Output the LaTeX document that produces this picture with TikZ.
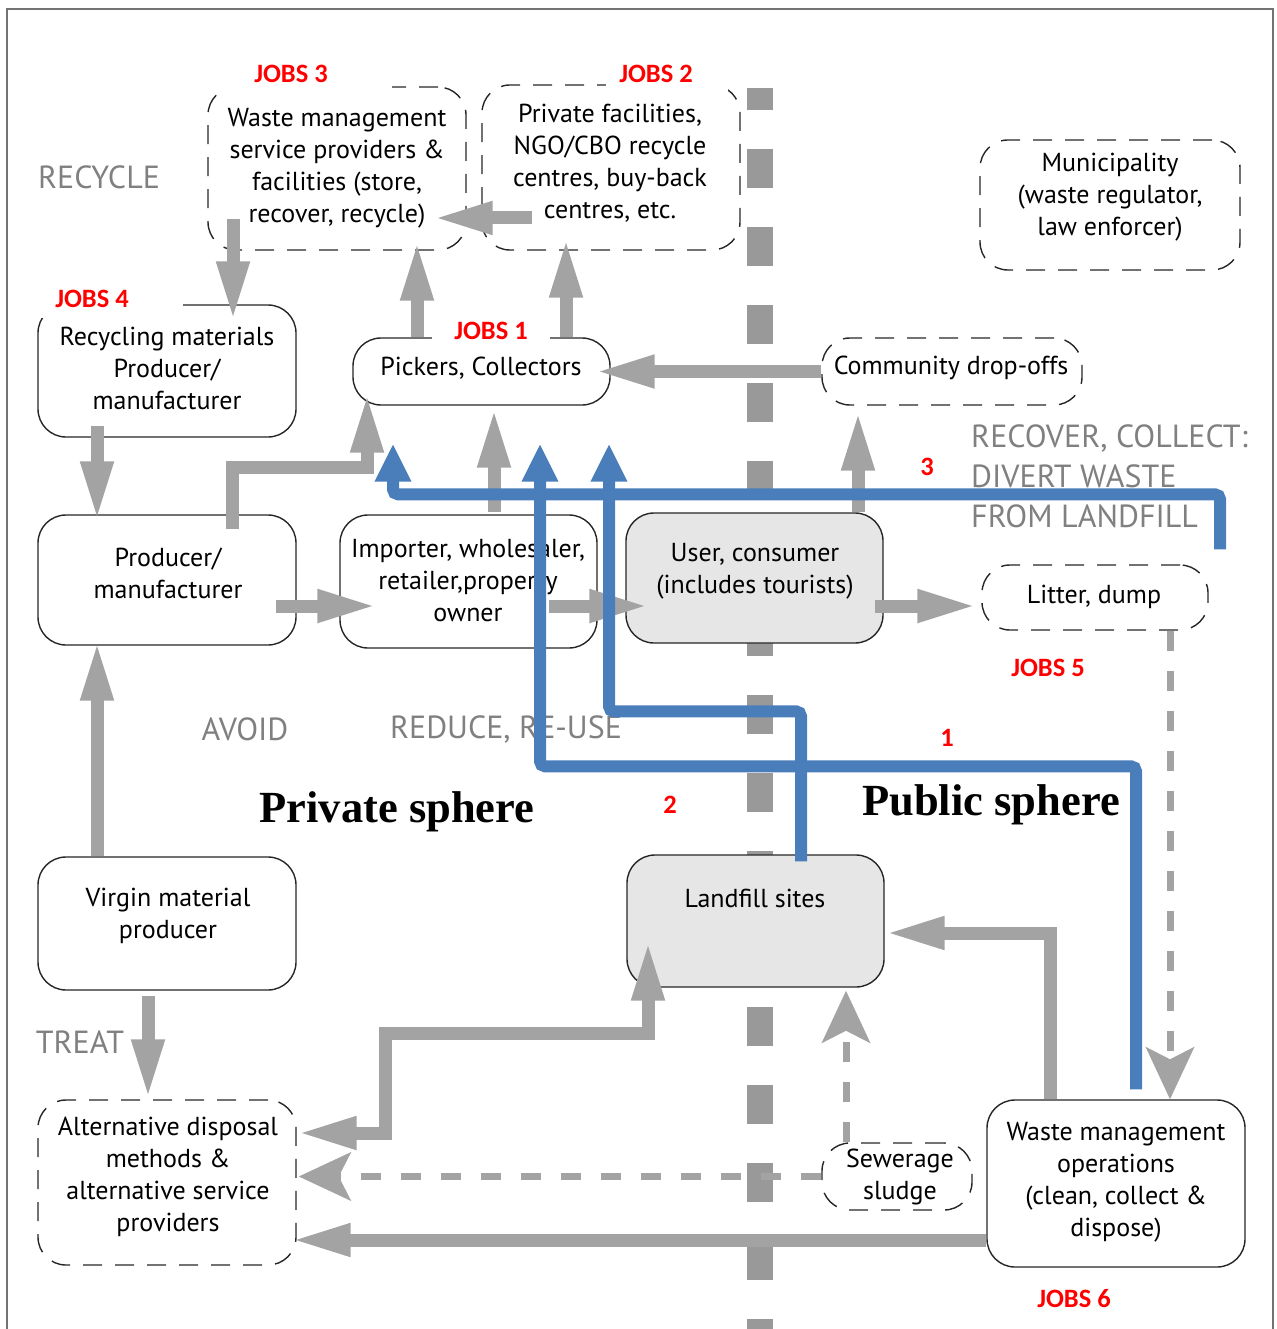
\documentclass[tikz,border=0pt]{standalone}
\usepackage{fontspec}
\setmainfont{PT Sans}
\newfontfamily\jobsfont{Carlito}
\newfontfamily\sphfont{Liberation Serif}
\usetikzlibrary{arrows.meta,calc}
\definecolor{garr}{RGB}{163,163,163}
\definecolor{gdiv}{RGB}{153,153,153}
\definecolor{bl}{RGB}{74,126,187}
\definecolor{lblgray}{RGB}{128,128,128}
\definecolor{boxfill}{RGB}{230,230,230}
\definecolor{jobred}{RGB}{255,0,0}
\begin{document}
\begin{tikzpicture}[x=1pt,y=-1pt,
  solidbox/.style={draw=black!85, line width=1.4pt, rounded corners=28pt, fill=white, inner sep=0pt},
  dashbox/.style={draw=black!85, line width=1.4pt, rounded corners=28pt, dash pattern=on 19pt off 13pt, inner sep=0pt},
  txt/.style={align=center, font=\fontsize{26}{32}\selectfont, inner sep=0pt},
  lbl/.style={text=lblgray, font=\fontsize{32}{40}\selectfont, inner sep=0pt},
  jobs/.style={text=jobred, font=\jobsfont\bfseries\fontsize{26.5}{30}\selectfont, inner sep=0pt},
  sph/.style={font=\sphfont\bfseries\fontsize{44.5}{50}\selectfont, inner sep=0pt},
  garrow/.style={draw=garr, line width=13pt, -{Triangle[width=30pt,length=60pt]}},
  gdarrow/.style={draw=garr, line width=7pt, dash pattern=on 20pt off 20pt, -{Stealth[width=48pt,length=52pt,inset=12pt]}},
  barrow/.style={draw=bl, line width=12pt, rounded corners=5pt, -{Triangle[width=34pt,length=38pt]}}
]
\useasboundingbox (0,0) rectangle (1276,1329);
% frame
\draw[black!55, line width=1.6pt] (7,1329) -- (7,9) -- (1273,9) -- (1273,1329);
% public/private divider
\draw[gdiv, line width=26pt, dash pattern=on 39pt off 39pt, dash phase=17pt] (760,88) -- (760,1329);

% boxes
\node[dashbox, minimum width=258pt, minimum height=163pt] (wms) at (337,168.5) {};
\node[dashbox, minimum width=258pt, minimum height=165pt] (pf) at (611,167.5) {};
\node[dashbox, minimum width=260pt, minimum height=130pt] (mun) at (1110,205) {};
\node[solidbox, minimum width=258pt, minimum height=132pt] (rmp) at (167,371) {};
\node[solidbox, minimum width=257pt, minimum height=67pt] (pick) at (481.5,371.5) {};
\node[dashbox, minimum width=260pt, minimum height=67pt] (cdo) at (952,371.5) {};
\node[solidbox, minimum width=258pt, minimum height=130pt] (prod) at (167,580) {};
\node[solidbox, minimum width=257pt, minimum height=133pt] (imp) at (468.5,581.5) {};
\node[solidbox, fill=boxfill, minimum width=257pt, minimum height=130pt] (user) at (754.5,578) {};
\node[dashbox, minimum width=226pt, minimum height=65pt] (litter) at (1095,597.5) {};
\node[solidbox, minimum width=258pt, minimum height=133pt] (virgin) at (167,923.5) {};
\node[solidbox, fill=boxfill, minimum width=257pt, minimum height=132pt] (land) at (755.5,921) {};
\node[dashbox, minimum width=258pt, minimum height=165pt] (alt) at (167,1182.5) {};
\node[dashbox, minimum width=150pt, minimum height=67pt] (sew) at (897,1176.5) {};
\node[solidbox, minimum width=258pt, minimum height=167pt] (wmo) at (1116,1183.5) {};

% gaps for labels on box borders
\fill[white] (35,290) rectangle (183,318);
\fill[white] (226,78) rectangle (392,94);
\fill[white] (606,76) rectangle (728,94);

% box texts
\node[txt] (wmsT) at (337,168) {Waste management\\service providers \&\\facilities (store,\\recover, recycle)};
\node[txt] (pfT) at (610,163) {Private facilities,\\NGO/CBO recycle\\centres, buy-back\\centres, etc.};
\node[txt] (munT) at (1110,197) {Municipality\\(waste regulator,\\law enforcer)};
\node[txt] (rmpT) at (167,368) {Recycling materials\\Producer/\\manufacturer};
\node[txt] (pickT) at (481,368) {Pickers, Collectors};
\node[txt] (cdoT) at (951,368) {Community drop-offs};
\node[txt] (prodT) at (168,573) {Producer/\\manufacturer};
\node[txt] (impT) at (468,581) {Importer, wholesaler,\\retailer,property\\owner};
\node[txt] (userT) at (755,571) {User, consumer\\(includes tourists)};
\node[txt] (litterT) at (1094,597) {Litter, dump};
\node[txt] (virginT) at (168,916) {Virgin material\\producer};
\node[txt] (landT) at (755,898) {Landfill sites};
\node[txt] (altT) at (168,1177) {Alternative disposal\\methods \&\\alternative service\\providers};
\node[txt] (sewT) at (900,1177) {Sewerage\\sludge};
\node[txt] (wmoT) at (1116,1182) {Waste management\\operations\\(clean, collect \&\\dispose)};

% gray labels
\node[lbl] (recycle) at (99,177) {RECYCLE};
\node[lbl] (avoid) at (245,729) {AVOID};
\node[lbl] (reduce) at (506,729) {REDUCE, RE-USE};
\node[lbl] (treat) at (80,1042) {TREAT};
\node[lbl, align=left, anchor=west] (recover) at (971,476) {RECOVER, COLLECT:\\DIVERT WASTE\\FROM LANDFILL};

% sphere titles
\node[sph] (priv) at (397,812) {Private sphere};
\node[sph] (publ) at (991,805) {Public sphere};

% gray arrows
\draw[garrow] ([xshift=-104pt,yshift=32pt]wms.south) -- ([xshift=66pt,yshift=-17pt]rmp.north);
\draw[garrow] ([xshift=51pt,yshift=-50.5pt]pf.west) -- ([xshift=-34pt,yshift=-49.5pt]wms.east);
\draw[garrow] ([xshift=-64.5pt]pick.north) -- ([xshift=80pt,yshift=10pt]wms.south);
\draw[garrow] ([xshift=84.5pt]pick.north) -- ([xshift=-45pt,yshift=13pt]pf.south);
\draw[garrow] (cdo.west) -- ([xshift=-16pt]pick.east);
\draw[garrow] ([xshift=-70pt,yshift=12pt]rmp.south) -- ([xshift=-70pt,yshift=-7pt]prod.north);
\draw[garrow] ([xshift=65pt,yshift=-15pt]prod.north) -- ++(0,-62) -| ([xshift=-114.5pt,yshift=13pt]pick.south);
\draw[garrow] ([xshift=25.5pt,yshift=2pt]imp.north) -- ([xshift=12.5pt,yshift=-2pt]pick.south);
\draw[garrow] ([xshift=-21pt,yshift=-26pt]prod.east) -- ([xshift=38pt,yshift=-24.5pt]imp.west);
\draw[garrow] ([xshift=-49pt,yshift=-24.5pt]imp.east) -- ([xshift=24pt,yshift=-28pt]user.west);
\draw[garrow] ([xshift=-9pt,yshift=-28pt]user.east) -- ([xshift=-4pt,yshift=-8.5pt]litter.west);
\draw[garrow] ([xshift=103.5pt]user.north) -- ([xshift=-94pt,yshift=-5pt]cdo.south);
\draw[gdarrow] ([xshift=75pt]litter.south) -- ([xshift=54pt]wmo.north);
\draw[garrow] ([xshift=-66pt]wmo.north) |- ([yshift=-12pt]land.east);
\coordinate (elbow) at (385,1033);
\draw[garrow, {Triangle[width=30pt,length=60pt]}-{Triangle[width=30pt,length=60pt]}] ([yshift=49.5pt]alt.east) -| (elbow) -| ([xshift=-107.5pt,yshift=47pt]land.south);
\draw[gdarrow] (sew.west) -- ([xshift=2pt,yshift=6pt]alt.east);
\draw[gdarrow] ([xshift=-51pt]sew.north) -- ([xshift=90.5pt,yshift=-3pt]land.south);
\draw[garrow] ([yshift=-56.5pt]wmo.west) -- ([xshift=-6pt,yshift=-57.5pt]alt.east);
\draw[garrow] ([xshift=-70pt]virgin.north) -- ([xshift=-70pt,yshift=5pt]prod.south);
\draw[garrow] ([xshift=-19pt,yshift=-5pt]virgin.south) -- ([xshift=-19pt]alt.north);

% blue paths
\draw[barrow] ([xshift=125pt,yshift=15pt]litter.north) -- ++(0,-55) -| ([xshift=-88.5pt,yshift=-38pt]pick.south);
\draw[barrow] ([xshift=20pt,yshift=10pt]wmo.north) -- ++(0,-323) -| ([xshift=58.5pt,yshift=-38pt]pick.south);
\draw[barrow] ([xshift=45.5pt,yshift=-7pt]land.north) -- ++(0,-150) -| ([xshift=127.5pt,yshift=-38pt]pick.south);

% jobs labels
\node[jobs] (j3) at (291,74) {JOBS 3};
\node[jobs] (j2) at (656,74) {JOBS 2};
\node[jobs] (j4) at (92,299) {JOBS 4};
\node[jobs, fill=white, inner xsep=22pt, inner ysep=4pt] (j1) at (491,331) {JOBS 1};
\node[jobs] (j5) at (1048,668) {JOBS 5};
\node[jobs] (j6) at (1074,1299) {JOBS 6};
\node[jobs] (n3) at (927,467) {3};
\node[jobs] (n1) at (947,738) {1};
\node[jobs] (n2) at (670,805) {2};
\end{tikzpicture}
\end{document}
